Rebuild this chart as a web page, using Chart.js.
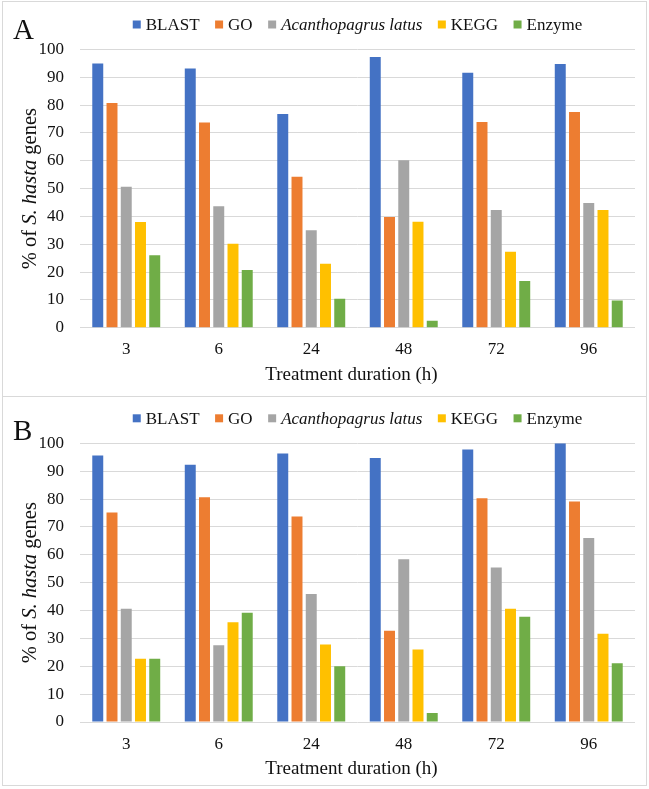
<!DOCTYPE html>
<html><head><meta charset="utf-8">
<script src="https://cdn.jsdelivr.net/npm/chart.js@4.4.1/dist/chart.umd.min.js"></script>
<style>
body{margin:0;background:#fff;width:649px;height:789px;position:relative;overflow:hidden}
.panel{position:absolute;left:2px;width:645px;border:1px solid #d9d9d9;box-sizing:border-box;background:#fff}
#pa{top:1px;height:396px}
#pb{top:396px;height:390px}
.panel canvas{position:absolute;left:0;top:0}
</style></head>
<body>
<div class="panel" id="pa"><canvas id="ca" width="643" height="394"></canvas></div>
<div class="panel" id="pb"><canvas id="cb" width="643" height="388"></canvas></div>
<script>
const categories = ['3','6','24','48','72','96'];
const seriesNames = ['BLAST','GO','Acanthopagrus latus','KEGG','Enzyme'];
const seriesItalic = [false,false,true,false,false];
const seriesColors = ['#4472C4','#ED7D31','#A5A5A5','#FFC000','#70AD47'];
const yTicks = [0,10,20,30,40,50,60,70,80,90,100];

const blastA  = [95.0, 93.2, 76.8, 97.3, 91.6, 94.8];
const goA     = [80.8, 73.8, 54.3, 39.8, 73.9, 77.5];
const latusA  = [50.7, 43.7, 35.0, 60.2, 42.3, 44.8];
const keggA   = [38.0, 30.2, 23.0, 38.1, 27.3, 42.3];
const enzymeA = [26.0, 20.7, 10.4, 2.5, 16.8, 9.8];

const blastB  = [95.6, 92.3, 96.3, 94.7, 97.8, 100];
const goB     = [75.2, 80.6, 73.7, 32.7, 80.3, 79.1];
const latusB  = [40.6, 27.5, 45.9, 58.4, 55.4, 66.0];
const keggB   = [22.7, 35.8, 27.8, 26.0, 40.6, 31.7];
const enzymeB = [22.7, 39.2, 20.0, 3.2, 37.8, 21.1];

const SERIF = '"Liberation Serif", "Times New Roman", serif';
const TXT = '#111';

const deco = {
  id: 'deco',
  afterDraw(chart, args, o) {
    const ctx = chart.ctx, ca = chart.chartArea;
    ctx.save();
    ctx.fillStyle = TXT;
    // panel letter
    ctx.font = '29px ' + SERIF;
    ctx.textAlign = 'left'; ctx.textBaseline = 'alphabetic';
    ctx.fillText(o.letter, o.letterX, o.letterY);
    // legend
    const lf = 17, sq = 8, gapT = 5, gapI = 15.5;
    const widths = seriesNames.map((n, i) => {
      ctx.font = (seriesItalic[i] ? 'italic ' : '') + lf + 'px ' + SERIF;
      return sq + gapT + ctx.measureText(n).width;
    });
    const total = widths.reduce((a, b) => a + b, 0) + gapI * (widths.length - 1);
    let x = (ca.left + ca.right) / 2 - total / 2;
    const ly = ca.top - 25;
    seriesNames.forEach((n, i) => {
      ctx.fillStyle = seriesColors[i];
      ctx.fillRect(x, ly - sq / 2, sq, sq);
      ctx.fillStyle = TXT;
      ctx.font = (seriesItalic[i] ? 'italic ' : '') + lf + 'px ' + SERIF;
      ctx.textBaseline = 'middle';
      ctx.fillText(n, x + sq + gapT, ly + 1);
      x += widths[i] + gapI;
    });
    // x title
    ctx.font = '19px ' + SERIF;
    ctx.textAlign = 'center'; ctx.textBaseline = 'alphabetic';
    ctx.fillText('Treatment duration (h)', (ca.left + ca.right) / 2 - 6, ca.bottom + 52.3);
    // y title with italic part
    const yf = '20.5px ';
    const parts = [['% of ', false], ['S. hasta', true], [' genes', false]];
    let tw = 0;
    const pw = parts.map(p => { ctx.font = (p[1] ? 'italic ' : '') + yf + SERIF; const w = ctx.measureText(p[0]).width; tw += w; return w; });
    ctx.translate(o.yTitleX, (ca.top + ca.bottom) / 2);
    ctx.rotate(-Math.PI / 2);
    ctx.textAlign = 'left'; ctx.textBaseline = 'middle';
    let px = -tw / 2;
    parts.forEach((p, i) => {
      ctx.font = (p[1] ? 'italic ' : '') + yf + SERIF;
      ctx.fillText(p[0], px, 0);
      px += pw[i];
    });
    ctx.restore();
  }
};

function makeChart(id, data, topPad, xHeight, letter, letterY) {
  return new Chart(document.getElementById(id), {
    type: 'bar',
    data: {
      labels: categories,
      datasets: data.map((d, i) => ({
        label: seriesNames[i], data: d, backgroundColor: seriesColors[i],
        borderWidth: 0, categoryPercentage: 0.77, barPercentage: 0.77
      }))
    },
    options: {
      responsive: false, animation: false,
      layout: { padding: { top: topPad, right: 11, left: 0, bottom: 0 } },
      plugins: {
        legend: { display: false }, tooltip: { enabled: false },
        deco: { letter: letter, letterX: 10, letterY: letterY, yTitleX: 28 }
      },
      scales: {
        x: {
          grid: { display: false, drawTicks: false }, border: { display: false },
          ticks: { color: TXT, font: { family: SERIF, size: 17 }, padding: 12 },
          afterFit(s) { s.height = xHeight; }
        },
        y: {
          min: 0, max: 100,
          afterBuildTicks(s) { s.ticks = yTicks.map(v => ({ value: v })); },
          grid: { color: '#d9d9d9', lineWidth: 1, drawTicks: false }, border: { display: false },
          ticks: { color: TXT, font: { family: SERIF, size: 17 }, padding: 16 },
          afterFit(s) { s.width = 77; }
        }
      }
    },
    plugins: [deco]
  });
}

makeChart('ca', [blastA, goA, latusA, keggA, enzymeA], 47.5, 68.3, 'A', 37);
makeChart('cb', [blastB, goB, latusB, keggB, enzymeB], 46.3, 63, 'B', 43);
</script>
</body></html>
